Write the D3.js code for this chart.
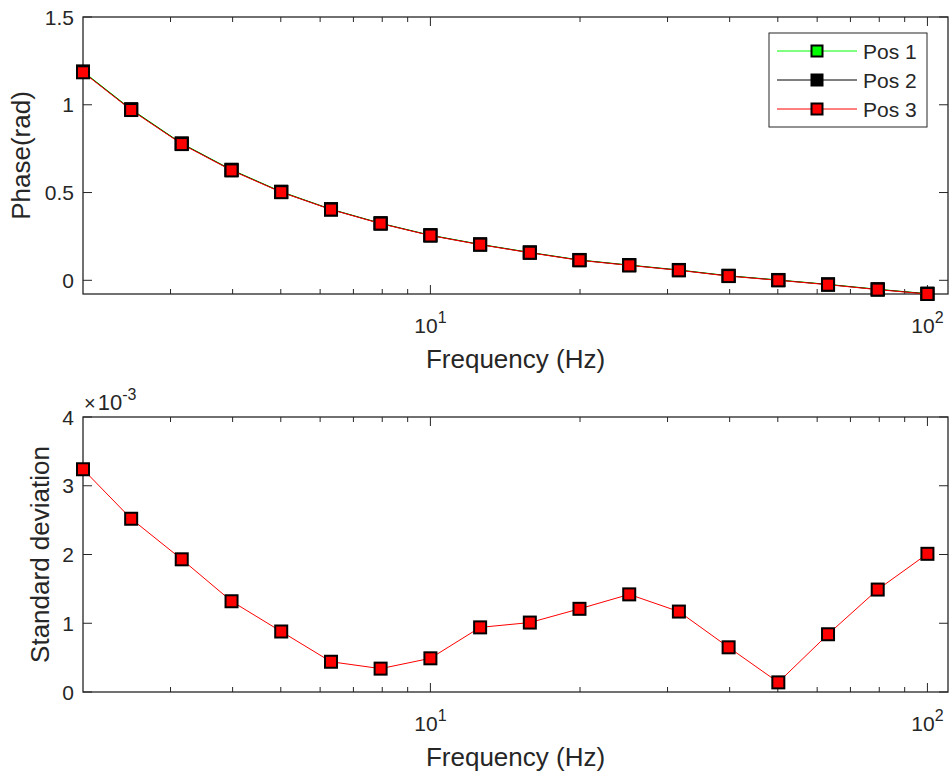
<!DOCTYPE html>
<html><head><meta charset="utf-8">
<script src="https://cdn.jsdelivr.net/npm/d3@7"></script>
<style>
html,body{margin:0;padding:0;background:#fff;}
text{font-family:"Liberation Sans",Arial,sans-serif;fill:#262626;}
</style></head>
<body><svg id="c" width="949" height="773"></svg>
<script>
// ---- data ----
const freq = [2, 2.5, 3.16, 3.98, 5.01, 6.31, 7.94, 10, 12.59, 15.85, 19.95, 25.12, 31.62, 39.81, 50.12, 63.1, 79.43, 100];
const phasePos1 = [1.190, 0.975, 0.780, 0.630, 0.505, 0.405, 0.325, 0.257, 0.205, 0.159, 0.116, 0.087, 0.059, 0.026, 0.002, -0.023, -0.051, -0.076];
const phasePos2 = [1.187, 0.972, 0.778, 0.628, 0.503, 0.404, 0.324, 0.256, 0.204, 0.158, 0.115, 0.086, 0.058, 0.025, 0.001, -0.024, -0.052, -0.077];
const phasePos3 = [1.185, 0.970, 0.776, 0.626, 0.502, 0.403, 0.323, 0.255, 0.203, 0.157, 0.114, 0.085, 0.057, 0.024, 0.000, -0.025, -0.053, -0.078];
const stdDev = [0.00324, 0.00252, 0.00193, 0.00132, 0.00088, 0.00044, 0.00034, 0.00049, 0.00094, 0.00101, 0.00121, 0.00142, 0.00117, 0.00065, 0.00014, 0.00084, 0.00149, 0.00201];
const seriesNames = ["Pos 1", "Pos 2", "Pos 3"];
const seriesColors = ["#00ff00", "#000000", "#ff0000"];
const phaseTicks = [0, 0.5, 1, 1.5];
const stdTicks = [0, 0.001, 0.002, 0.003, 0.004];
const xMajorTicks = [10, 100];
const xMinorTicks = [3,4,5,6,7,8,9,20,30,40,50,60,70,80,90];
const xLabel = "Frequency (Hz)";

const svg = d3.select("#c");
const AX = "#262626";
const L = 83, R = 948;

function drawAxes(t0, b0, yDomain, yTicks, yFmt, yLabel, yLabelX) {
  const x = d3.scaleLog().domain([2, 110]).range([L, R]);
  const y = d3.scaleLinear().domain(yDomain).range([b0, t0]);
  const g = svg.append("g");
  xMinorTicks.forEach(t => {
    g.append("line").attr("x1", x(t)).attr("x2", x(t)).attr("y1", b0).attr("y2", b0 - 5).attr("stroke", AX);
    g.append("line").attr("x1", x(t)).attr("x2", x(t)).attr("y1", t0).attr("y2", t0 + 5).attr("stroke", AX);
  });
  xMajorTicks.forEach(t => {
    g.append("line").attr("x1", x(t)).attr("x2", x(t)).attr("y1", b0).attr("y2", b0 - 9).attr("stroke", AX);
    g.append("line").attr("x1", x(t)).attr("x2", x(t)).attr("y1", t0).attr("y2", t0 + 9).attr("stroke", AX);
    const tx = g.append("text").attr("x", x(t)).attr("y", b0 + 39).attr("text-anchor", "middle").style("font-size", "21px");
    tx.append("tspan").text("10");
    tx.append("tspan").attr("dy", -10).style("font-size", "16px").text(Math.round(Math.log10(t)));
  });
  yTicks.forEach(t => {
    g.append("line").attr("x1", L).attr("x2", L + 9).attr("y1", y(t)).attr("y2", y(t)).attr("stroke", AX);
    g.append("line").attr("x1", R).attr("x2", R - 9).attr("y1", y(t)).attr("y2", y(t)).attr("stroke", AX);
    g.append("text").attr("x", 74).attr("y", y(t)).attr("dy", "0.36em").attr("text-anchor", "end").style("font-size", "21px").text(yFmt(t));
  });
  g.append("rect").attr("x", L).attr("y", t0).attr("width", R - L).attr("height", b0 - t0)
    .attr("fill", "none").attr("stroke", AX).attr("stroke-width", 1.3);
  g.append("text").attr("x", (L + R) / 2).attr("y", b0 + 74).attr("text-anchor", "middle").style("font-size", "26px").text(xLabel);
  g.append("text").attr("transform", `translate(${yLabelX},${(t0 + b0) / 2}) rotate(-90)`)
    .attr("text-anchor", "middle").style("font-size", "26px").text(yLabel);
  return {x, y};
}

function drawSeries(sc, vals, color, markerFill) {
  const line = d3.line().x((d, i) => sc.x(freq[i])).y(d => sc.y(d));
  svg.append("path").datum(vals).attr("d", line).attr("fill", "none").attr("stroke", color).attr("stroke-width", 1);
  svg.append("g").selectAll("rect").data(vals).join("rect")
    .attr("x", (d, i) => sc.x(freq[i]) - 6).attr("y", d => sc.y(d) - 6)
    .attr("width", 12).attr("height", 12)
    .attr("fill", markerFill).attr("stroke", "#000").attr("stroke-width", 2);
}

// top plot
const topSc = drawAxes(17, 294, [-0.078, 1.5], phaseTicks, d => d3.format("~g")(d), "Phase(rad)", 30);
[phasePos1, phasePos2, phasePos3].forEach((v, i) => drawSeries(topSc, v, seriesColors[i], seriesColors[i]));

// legend
const lg = svg.append("g");
lg.append("rect").attr("x", 769).attr("y", 33).attr("width", 158).attr("height", 94)
  .attr("fill", "#fff").attr("stroke", AX).attr("stroke-width", 1);
seriesNames.forEach((n, i) => {
  const yy = 51 + i * 29;
  lg.append("line").attr("x1", 777).attr("x2", 857).attr("y1", yy).attr("y2", yy).attr("stroke", seriesColors[i]).attr("stroke-width", 1);
  lg.append("rect").attr("x", 817 - 5.5).attr("y", yy - 5.5).attr("width", 11).attr("height", 11)
    .attr("fill", seriesColors[i]).attr("stroke", "#000").attr("stroke-width", 2);
  lg.append("text").attr("x", 863).attr("y", yy).attr("dy", "0.36em").style("font-size", "21px").text(n);
});

// bottom plot
const botSc = drawAxes(417, 692, [0, 0.004], stdTicks, d => d3.format("~g")(d * 1000), "Standard deviation", 49);
drawSeries(botSc, stdDev, seriesColors[2], seriesColors[2]);
const ex = svg.append("text").attr("x", 84).attr("y", 410).style("font-size", "22px");
ex.append("tspan").style("font-size", "20px").text("\u00d7");
ex.append("tspan").attr("dx", 2).text("10");
ex.append("tspan").attr("dy", -10).style("font-size", "16px").text("-3");
</script>
</body></html>
